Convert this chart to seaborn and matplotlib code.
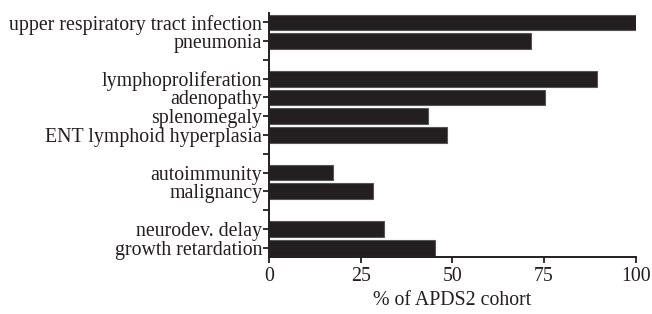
import numpy as np
import matplotlib
matplotlib.use("Agg")
import matplotlib.pyplot as plt
import pandas as pd
import seaborn as sns

sns.set_style("ticks")
plt.rcParams['font.family'] = ['Liberation Serif', 'DejaVu Serif']

# data (% of cohort)
groups = [
    ["upper respiratory tract infection", "pneumonia"],
    ["lymphoproliferation", "adenopathy", "splenomegaly", "ENT lymphoid hyperplasia"],
    ["autoimmunity", "malignancy"],
    ["neurodev. delay", "growth retardation"],
]
values = [
    [100.0, 71.3],
    [89.4, 75.3, 43.4, 48.4],
    [17.5, 28.4],
    [31.4, 45.2],
]
xticks = [0, 25, 50, 75, 100]
xlabel = "% of APDS2 cohort"

# build row positions with an empty row between groups
labels, vals, pos, tick_labels = [], [], [], []
row = 0
for gi, (names, vs) in enumerate(zip(groups, values)):
    if gi > 0:
        tick_labels.append("")
        row += 1
    for n, v in zip(names, vs):
        labels.append(n)
        vals.append(v)
        pos.append(row)
        tick_labels.append(n)
        row += 1
df = pd.DataFrame({"cond": labels, "pct": vals, "pos": pos})

fs = 14.3
fig = plt.figure(figsize=(6.52, 3.14), dpi=100)
ax = fig.add_axes([0.413, 0.1815, 0.562, 0.777])
sns.barplot(data=df, x="pct", y="pos", orient="h", native_scale=True,
            color="#231f20", width=0.84, edgecolor="#555555", linewidth=0.8,
            saturation=1, ax=ax)

ax.set_ylim(row - 0.5, -0.5)
ax.set_yticks(range(row))
ax.set_yticklabels(tick_labels)
ax.set_xlim(0, 100)
ax.set_xticks(xticks)
ax.set_xlabel(xlabel, fontsize=fs, labelpad=4, color="#231f20")
ax.set_ylabel("")
ax.tick_params(axis="both", labelsize=fs, width=1.3, length=4, color="#231f20",
               labelcolor="#231f20", pad=1)
ax.tick_params(axis="x", pad=3)
sns.despine(ax=ax)
for s in ["left", "bottom"]:
    ax.spines[s].set_linewidth(1.4)
    ax.spines[s].set_color("#231f20")

fig.savefig("out.png", dpi=100)
